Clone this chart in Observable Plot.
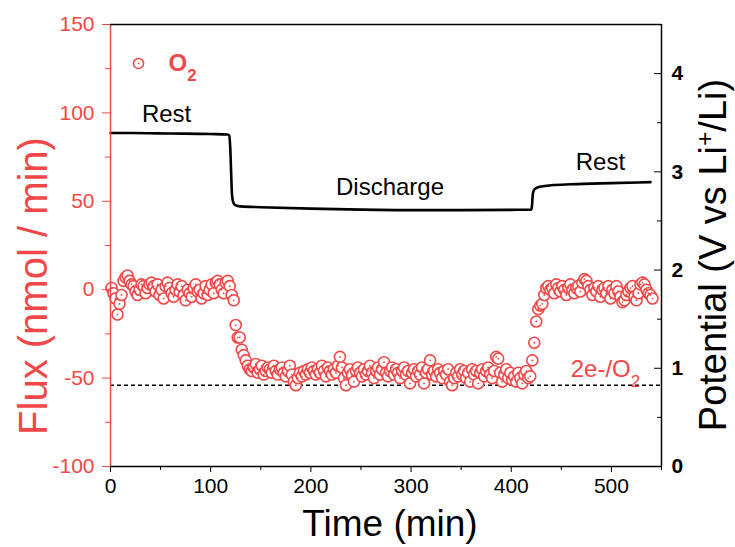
<!DOCTYPE html>
<html><head><meta charset="utf-8">
<script src="https://cdn.jsdelivr.net/npm/d3@7"></script>
<script src="https://cdn.jsdelivr.net/npm/@observablehq/plot@0.6"></script>
<style>body{margin:0;background:#fff}</style>
</head><body><div id="chart"></div>
<script>
const RED = "#f04848";

// O2 flux (nmol/min) vs time (min)
const timeMin = [
1,3,5,7,9,11,13,15,17,19,21,23,25,27,29,31,33,35,37,39,
41,43,45,47,49,51,53,55,57,59,61,63,65,67,69,71,73,75,77,79,
81,83,85,87,89,91,93,95,97,99,101,103,105,107,109,111,113,115,117,119,
121,123,125,127,129,131,133,135,137,139,141,143,145,147,149,151,153,155,157,159,
161,163,165,167,169,171,173,175,177,179,181,183,185,187,189,191,193,195,197,199,
201,203,205,207,209,211,213,215,217,219,221,223,225,227,229,231,233,235,237,239,
241,243,245,247,249,251,253,255,257,259,261,263,265,267,269,271,273,275,277,279,
281,283,285,287,289,291,293,295,297,299,301,303,305,307,309,311,313,315,317,319,
321,323,325,327,329,331,333,335,337,339,341,343,345,347,349,351,353,355,357,359,
361,363,365,367,369,371,373,375,377,379,381,383,385,387,389,391,393,395,397,399,
401,403,405,407,409,411,413,415,417,419,421,423,425,427,429,431,433,435,437,439,
441,443,445,447,449,451,453,455,457,459,461,463,465,467,469,471,473,475,477,479,
481,483,485,487,489,491,493,495,497,499,501,503,505,507,509,511,513,515,517,519,
521,523,525,527,529,531,533,535,537,539,541
];
const fluxO2 = [
// rest (1-119)
1,-2,-5,-14,-8,-3,5,7,8,5,
3,2,-1,-3,0,3,2,-2,1,3,
4,2,-1,3,-3,0,-5,2,4,1,
-2,-4,0,3,-1,2,-3,-6,0,-2,
-4,1,3,-1,0,-5,-2,2,-3,0,
3,-2,4,5,3,0,-2,4,5,2,
// drop (121-141)
-3,-6,-20,-27,-27,-34,-37,-40,-43,-45,-46,
// discharge (143-415)
-44,-42,-47,-45,-43,-48,-46,-44,-45,-47,
-43,-46,-48,-45,-44,-47,-49,-46,-43,-48,
-52,-54,-50,-47,-49,-46,-48,-45,-47,-44,
-46,-48,-45,-47,-43,-46,-49,-44,-46,-48,
-45,-47,-43,-38,-44,-50,-54,-47,-45,-48,
-52,-46,-44,-47,-49,-45,-48,-46,-43,-47,
-50,-46,-44,-48,-45,-41,-47,-49,-46,-44,
-48,-45,-47,-50,-46,-44,-48,-46,-53,-47,
-45,-49,-46,-48,-44,-53,-47,-45,-40,-48,
-46,-49,-45,-47,-50,-46,-48,-45,-52,-54,
-50,-47,-49,-45,-48,-46,-50,-47,-52,-45,
-48,-46,-53,-47,-45,-49,-46,-44,-48,-50,
-46,-38,-39,-47,-52,-48,-45,-50,-47,-51,
-49,-52,-47,-50,-53,-48,-46,
// rise (417-435)
-50,-49,-40,-30,-18,-11,-9,-8,-3,1,
// rest (437-541)
2,0,1,-2,3,1,-1,2,0,-3,
1,3,0,-2,1,2,-1,4,6,5,
2,0,-3,1,-1,2,-4,0,1,-2,
2,-5,0,-2,2,-1,-4,-7,-6,-3,
-1,1,2,-4,-6,-2,3,4,3,0,
-2,-3,-5
];

// Potential (V vs Li+/Li) vs time (min)
const potTime = [0,20,60,100,117,118.5,119.5,120.5,121.2,122,123.5,126,130,150,200,250,300,350,400,420,420.8,421.5,422.5,425,430,440,460,500,539];
const potV    = [3.395,3.395,3.39,3.385,3.38,3.37,3.25,2.97,2.78,2.71,2.67,2.655,2.648,2.64,2.625,2.615,2.61,2.61,2.613,2.615,2.66,2.77,2.81,2.835,2.85,2.863,2.873,2.885,2.895];

const fluxTicks = [-100,-50,0,50,100,150];
const fluxMinor = [-75,-25,25,75,125];
const timeTicks = [0,100,200,300,400,500];
const timeMinor = [50,150,250,350,450,550];
const vTicks = [0,1,2,3,4];
const vMinor = [0.5,1.5,2.5,3.5];
const ratioLevel = [-54];           // 2e-/O2 expected flux
const annoText = ["Rest","Discharge","Rest","2e-/O₂"];
const annoTime = [56,279,489,494];
const annoFlux = [99,58,72,-45];
const annoColor = ["black","black","black",RED];

const fluxDomain = [-100,150];
const vDomain = [0,4.5];
const vToFlux = v => fluxDomain[0] + (v - vDomain[0]) * (fluxDomain[1]-fluxDomain[0]) / (vDomain[1]-vDomain[0]);
const fluxToV = f => vDomain[0] + (f - fluxDomain[0]) * (vDomain[1]-vDomain[0]) / (fluxDomain[1]-fluxDomain[0]);

const o2 = timeMin.map((t,i) => ({t, f: fluxO2[i]}));
const pot = potTime.map((t,i) => ({t, f: vToFlux(potV[i])}));
const anno = annoText.map((s,i) => ({s, t: annoTime[i], f: annoFlux[i], c: annoColor[i]}));
const legend = [{t: 28, f: 128, s: "O₂"}];

const chart = Plot.plot({
  width: 735, height: 547,
  marginLeft: 110, marginRight: 74, marginTop: 24, marginBottom: 81,
  x: {domain: [0,550]},
  y: {domain: fluxDomain},
  style: {fontFamily: "'Liberation Sans', Arial, sans-serif", background: "white", overflow: "visible"},
  marks: [
    Plot.ruleY(ratioLevel, {stroke: "black", strokeWidth: 1.5, strokeDasharray: "4,3"}),
    Plot.line(pot, {x: "t", y: "f", stroke: "black", strokeWidth: 2.6, curve: "monotone-x"}),
    Plot.dot(o2, {x: "t", y: "f", r: 5.5, stroke: RED, fill: "white", strokeWidth: 1.6}),
    Plot.dot(o2, {x: "t", y: "f", r: 0.9, fill: RED, stroke: null}),
    Plot.text(anno, {x: "t", y: "f", text: "s", fill: "c", fontSize: 24}),
    Plot.dot(legend, {x: "t", y: "f", r: 5, stroke: RED, fill: "white", strokeWidth: 1.5}),
    Plot.dot(legend, {x: "t", y: "f", r: 0.9, fill: RED, stroke: null}),
    Plot.text(legend, {x: "t", y: "f", text: "s", dx: 30, textAnchor: "start", fill: RED, fontSize: 24, fontWeight: "bold"}),
    Plot.ruleX([0], {stroke: RED, strokeWidth: 1.5}),
    Plot.ruleX([550], {stroke: "black", strokeWidth: 1.5}),
    Plot.ruleY([fluxDomain[0]], {stroke: "black", strokeWidth: 1.5}),
    Plot.ruleY([fluxDomain[1]], {stroke: "black", strokeWidth: 1.5}),
    Plot.axisY(fluxTicks, {anchor: "left", tickSize: 8, tickPadding: 8, fontSize: 21, color: RED, label: null, tickFormat: d => String(d)}),
    Plot.axisY(fluxMinor, {anchor: "left", tickSize: 5, tickFormat: () => "", color: RED, label: null}),
    Plot.axisX(timeTicks, {anchor: "bottom", tickSize: 6, tickPadding: 6, fontSize: 21, label: null, tickFormat: d => String(d)}),
    Plot.axisX(timeMinor, {anchor: "bottom", tickSize: 4, tickFormat: () => "", label: null}),
    Plot.axisY(vTicks.map(vToFlux), {anchor: "right", tickSize: 0, tickPadding: 10, fontSize: 21, fontWeight: "bold", tickFormat: f => String(Math.round(fluxToV(f))), label: null}),
    Plot.axisY(vTicks.map(vToFlux), {anchor: "right", tickSize: -8, tickFormat: () => "", label: null}),
    Plot.axisY(vMinor.map(vToFlux), {anchor: "right", tickSize: -5, tickFormat: () => "", label: null})
  ]
});
document.getElementById("chart").appendChild(chart);

const svg = d3.select(chart);
// subscripts / superscripts
svg.selectAll("text").each(function() {
  const el = d3.select(this);
  const txt = this.textContent;
  if (txt.includes("₂")) {
    const parts = txt.split("₂");
    el.text(null);
    el.append("tspan").text(parts[0]);
    el.append("tspan").attr("baseline-shift", "sub").attr("font-size", "70%").text("2");
  }
});
// axis titles
svg.append("text")
  .attr("transform", "translate(47,286) rotate(-90)")
  .attr("text-anchor", "middle").attr("fill", RED)
  .attr("font-size", 40).text("Flux (nmol / min)");
svg.append("text")
  .attr("x", 390).attr("y", 536)
  .attr("text-anchor", "middle").attr("fill", "black")
  .attr("font-size", 37).text("Time (min)");
const pt = svg.append("text")
  .attr("transform", "translate(726,255) rotate(-90)")
  .attr("text-anchor", "middle").attr("fill", "black")
  .attr("font-size", 38);
pt.append("tspan").text("Potential (V vs Li");
pt.append("tspan").attr("baseline-shift", "super").attr("font-size", "65%").text("+");
pt.append("tspan").text("/Li)");
</script>
</body></html>
